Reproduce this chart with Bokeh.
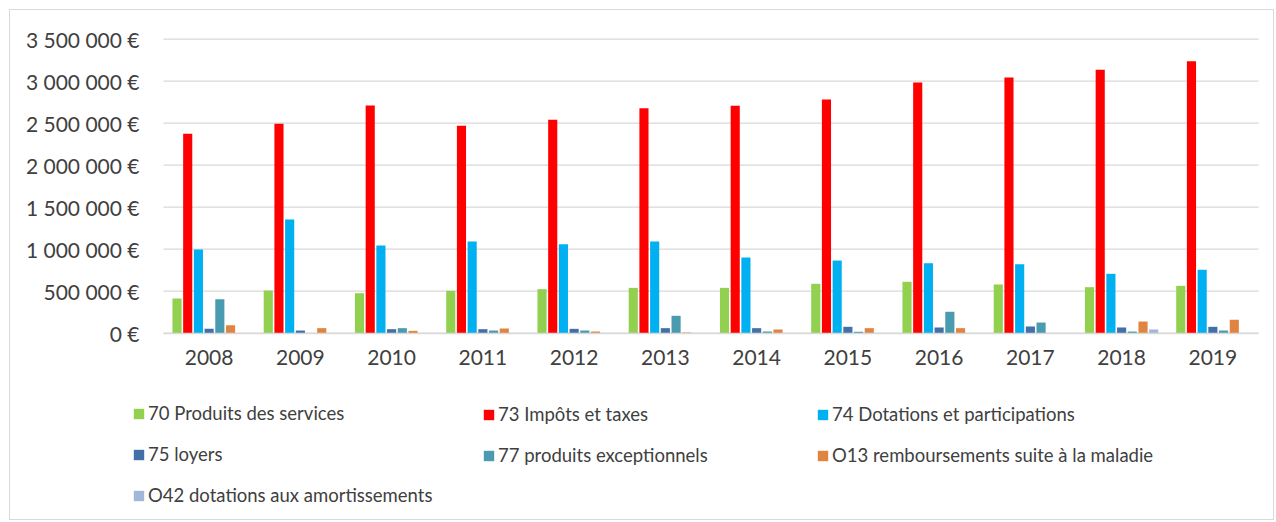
from bokeh.plotting import figure
from bokeh.models import (Range1d, FixedTicker, Legend, LegendItem, ColumnDataSource,
                          LinearAxis)
from bokeh.transform import dodge
from bokeh.embed import file_html
from bokeh.resources import INLINE

years = [str(y) for y in range(2008, 2020)]
s70 = [413000, 508000, 476000, 505000, 524000, 540000, 540000, 588000, 612000, 580000, 548000, 564000]
s73 = [2374000, 2493000, 2711000, 2469000, 2540000, 2679000, 2707000, 2782000, 2984000, 3044000, 3136000, 3238000]
s74 = [996000, 1353000, 1044000, 1092000, 1060000, 1092000, 901000, 865000, 833000, 821000, 707000, 755000]
s75 = [52000, 32000, 48000, 48000, 52000, 60000, 60000, 76000, 68000, 80000, 68000, 76000]
s77 = [405000, 0, 60000, 32000, 32000, 207000, 20000, 17000, 255000, 127000, 20000, 32000]
s013 = [95000, 60000, 28000, 56000, 20000, 8000, 44000, 60000, 60000, 0, 139000, 160000]
s042 = [0, 0, 0, 0, 0, 0, 0, 0, 0, 0, 44000, 0]

labels = ["70 Produits des services", "73 Impôts et taxes", "74 Dotations et participations",
          "75 loyers", "77 produits exceptionnels", "O13 remboursements suite à la maladie",
          "O42 dotations aux amortissements"]
colors = ["#92d050", "#ff0000", "#00b0f0", "#4470a8", "#4a9bb0", "#e0843f", "#a3b5da"]
keys = ["v70", "v73", "v74", "v75", "v77", "v013", "v042"]

tick_values = [0, 500000, 1000000, 1500000, 2000000, 2500000, 3000000, 3500000]
tick_labels = ["0 €", "500 000 €", "1 000 000 €", "1 500 000 €", "2 000 000 €",
               "2 500 000 €", "3 000 000 €", "3 500 000 €"]

n = len(years)
xc = [i + 0.5 for i in range(n)]
src = ColumnDataSource(dict(xc=xc, v70=s70, v73=s73, v74=s74, v75=s75,
                            v77=s77, v013=s013, v042=s042))

FONT = "Lato"
TXT = "#404040"

# layout geometry (pixels inside the canvas)
W, H = 1265, 511
PLOT_L, PLOT_R, PLOT_T, PLOT_B = 153, 1248, 28.7, 322.7
px_per_cat = (PLOT_R - PLOT_L) / n
ymax = tick_values[-1]
px_per_val = (PLOT_B - PLOT_T) / ymax

x_range = Range1d(-PLOT_L / px_per_cat, n + (W - PLOT_R) / px_per_cat)
y_range = Range1d(-(H - PLOT_B) / px_per_val, ymax + PLOT_T / px_per_val)

p = figure(width=W, height=H, output_backend="svg", toolbar_location=None,
           x_range=x_range, y_range=y_range,
           x_axis_location=None, y_axis_location=None, min_border=0)
p.styles = {"border": "1px solid #d9d9d9", "margin-left": "9px", "margin-top": "9px"}
p.outline_line_color = None
p.background_fill_color = "white"
p.grid.visible = False

# horizontal gridlines
gsrc = ColumnDataSource(dict(x0=[0] * len(tick_values), x1=[n] * len(tick_values),
                             y=tick_values))
p.segment(x0="x0", x1="x1", y0="y", y1="y", source=gsrc, line_color="#d9d9d9", line_width=1.2)

step = 0.1173
renderers = []
for i, (k, c) in enumerate(zip(keys, colors)):
    r = p.vbar(x=dodge("xc", (i - 3) * step), top=k, width=0.1,
               source=src, fill_color=c, line_color=None)
    renderers.append(r)

yaxis = LinearAxis(fixed_location=0, bounds=(0, ymax))
yaxis.ticker = FixedTicker(ticks=tick_values)
yaxis.major_label_overrides = {v: l for v, l in zip(tick_values, tick_labels)}
yaxis.axis_line_color = None
yaxis.major_tick_line_color = None
yaxis.minor_tick_line_color = None
yaxis.major_tick_out = 0
yaxis.major_tick_in = 0
yaxis.major_label_standoff = 24
yaxis.major_label_text_font = FONT
yaxis.major_label_text_font_size = "21px"
yaxis.major_label_text_color = TXT
p.add_layout(yaxis, "left")

xaxis = LinearAxis(fixed_location=0, bounds=(0, n))
xaxis.ticker = FixedTicker(ticks=xc)
xaxis.major_label_overrides = {v: l for v, l in zip(xc, years)}
xaxis.axis_line_color = "#d9d9d9"
xaxis.axis_line_width = 1.5
xaxis.major_tick_line_color = None
xaxis.minor_tick_line_color = None
xaxis.major_tick_out = 0
xaxis.major_tick_in = 0
xaxis.major_label_standoff = 17
xaxis.major_label_text_font = FONT
xaxis.major_label_text_font_size = "21px"
xaxis.major_label_text_color = TXT
p.add_layout(xaxis, "below")


def make_legend(idx, loc):
    leg = Legend(items=[LegendItem(label=labels[i], renderers=[renderers[i]]) for i in idx],
                 location=loc, orientation="vertical")
    leg.glyph_width = 13
    leg.glyph_height = 13
    leg.label_standoff = 3
    leg.label_text_font = FONT
    leg.label_text_font_size = "18.5px"
    leg.label_text_color = TXT
    leg.label_height = 22
    leg.spacing = 19
    leg.padding = 0
    leg.margin = 0
    leg.border_line_alpha = 0
    leg.background_fill_alpha = 0
    return leg


p.add_layout(make_legend([0, 3, 6], (122, 15)))
p.add_layout(make_legend([1, 4], (472, 55)))
p.add_layout(make_legend([2, 5], (806, 55)))

open("out.html", "w").write(file_html(p, INLINE))
